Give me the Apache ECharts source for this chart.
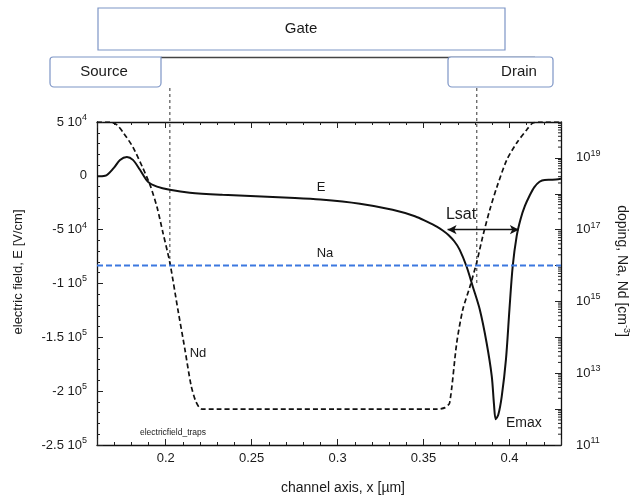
<!DOCTYPE html>
<html>
<head>
<meta charset="utf-8">
<script src="https://cdn.jsdelivr.net/npm/echarts@6/dist/echarts.min.js"></script>
<style>
html,body{margin:0;padding:0;background:#fff;}
#c{width:634px;height:501px;}
</style>
</head>
<body>
<div id="c"></div>
<script>
// ---- data ----
const xMin = 0.16, xMax = 0.43;
// electric field E [V/cm] along the channel
const eX = [0.16, 0.1647, 0.1698, 0.1734, 0.1774, 0.1809, 0.185, 0.1897, 0.1949, 0.2024, 0.214, 0.233, 0.272, 0.29, 0.313, 0.332, 0.345, 0.352, 0.3577, 0.3612, 0.3645, 0.368, 0.371, 0.375, 0.3787, 0.3827, 0.3867, 0.3897, 0.391, 0.392, 0.3935, 0.3955, 0.398, 0.400, 0.4019, 0.4042, 0.4065, 0.409, 0.4117, 0.4145, 0.4175, 0.4205, 0.425, 0.43];
const eVal = [-500, 0, 7400, 14800, 17600, 14800, 5600, -5600, -10000, -13000, -15700, -17600, -20400, -22000, -25900, -31500, -37500, -42600, -47200, -50800, -55000, -61000, -68500, -84000, -103000, -124000, -155000, -186000, -212000, -226000, -222000, -205000, -170000, -124000, -84000, -56000, -40000, -28000, -18500, -10500, -5500, -3800, -3700, -2800];
// donor doping Nd [cm^-3]
const ndX = [0.16, 0.1676, 0.1716, 0.1751, 0.1809, 0.1867, 0.1908, 0.1949, 0.1984, 0.2024, 0.2071, 0.2112, 0.2147, 0.2176, 0.221, 0.3, 0.358, 0.3625, 0.3652, 0.3693, 0.3728, 0.3769, 0.3809, 0.3844, 0.3885, 0.3926, 0.3984, 0.4042, 0.41, 0.4135, 0.4176, 0.43];
const ndVal = [1e20, 1e20, 8.3e19, 5.2e19, 2.0e19, 5.2e18, 1.8e18, 4.3e17, 8.1e16, 1.2e16, 5.8e14, 4.5e13, 4.7e12, 1.6e12, 1e12, 1e12, 1e12, 1.1e12, 1.5e12, 6.9e13, 5.8e14, 2.5e15, 1.2e16, 6.3e16, 3.5e17, 1.5e18, 8.7e18, 2.6e19, 6.0e19, 9.3e19, 1e20, 1e20];
// acceptor doping Na [cm^-3]
const naX = [0.16, 0.43];
const naVal = [1e16, 1e16];
// metallurgical junctions (x of dashed verticals)
const junctions = [0.2024, 0.381];
// saturation region (Lsat) at E = -5e4
const lsatX = [0.364, 0.4055];
const lsatE = -50000;
// axis ranges / ticks
const eMin = -250000, eMax = 50000, eStep = 50000;
const logMin = 11, logMax = 20;

const FONT = '"Liberation Sans", Arial, Helvetica, sans-serif';
const TXT = '#1a1a1a';

function eLabel(v) {
  if (Math.abs(v) < 1) return '0';
  const ex = Math.abs(v) < 1e5 ? 4 : 5;
  const m = v / Math.pow(10, ex);
  return m + ' 10{sup|' + ex + '}';
}
function logLabel(v) {
  const n = Math.round(v);
  if (n % 2 === 0) return '';
  return '10{sup|' + n + '}';
}
const supRich = {
  sup: { fontSize: 9, fontFamily: FONT, color: TXT, padding: [0, 0, 9, 0] }
};

const chart = echarts.init(document.getElementById('c'), null, { renderer: 'canvas' });

const pairs = (xs, ys, f) => xs.map((x, i) => [x, f ? f(ys[i]) : ys[i]]);

// minor log ticks for the right axis
const minorLog = [];
for (let d = logMin; d < logMax; d++) {
  for (let m = 2; m <= 9; m++) minorLog.push([xMax, Math.log10(m * Math.pow(10, d))]);
}

const baseX = {
  type: 'value', min: xMin, max: xMax, splitLine: { show: false }
};
const axLine = { show: true, onZero: false, lineStyle: { color: '#111', width: 1.3 } };
const noLine = { show: false, onZero: false };

chart.setOption({
  animation: false,
  backgroundColor: '#fff',
  grid: { left: 97, right: 73, top: 122, bottom: 56, containLabel: false },
  xAxis: [
    Object.assign({}, baseX, {
      position: 'bottom', interval: 0.01,
      axisLine: axLine,
      axisTick: { show: true, inside: true, length: 3, lineStyle: { color: '#222' } },
      axisLabel: {
        interval: 0, margin: 7, fontSize: 13, fontFamily: FONT, color: TXT,
        formatter: v => (Math.abs(v * 20 - Math.round(v * 20)) < 1e-6 && v > xMin + 1e-6 && v < xMax - 1e-6) ? String(+v.toFixed(2)) : ''
      }
    }),
    Object.assign({}, baseX, {
      position: 'bottom', splitNumber: 5,
      axisLine: noLine,
      axisTick: { show: true, inside: true, length: 6, lineStyle: { color: '#222' } },
      axisLabel: { show: false }
    }),
    Object.assign({}, baseX, {
      position: 'top', interval: 0.01,
      axisLine: axLine,
      axisTick: { show: true, inside: true, length: 3, lineStyle: { color: '#222' } },
      axisLabel: { show: false }
    }),
    Object.assign({}, baseX, {
      position: 'top', splitNumber: 5,
      axisLine: noLine,
      axisTick: { show: true, inside: true, length: 6, lineStyle: { color: '#222' } },
      axisLabel: { show: false }
    })
  ],
  yAxis: [
    {
      type: 'value', position: 'left', min: eMin, max: eMax, interval: eStep,
      splitLine: { show: false },
      axisLine: axLine,
      axisTick: { show: true, inside: true, length: 6, lineStyle: { color: '#222' } },
      minorTick: { show: true, splitNumber: 5, length: 3, lineStyle: { color: '#222' } },
      axisLabel: {
        margin: 10, fontSize: 13, fontFamily: FONT, color: TXT,
        formatter: eLabel, rich: supRich
      }
    },
    {
      type: 'value', position: 'right', min: logMin, max: logMax, interval: 1,
      splitLine: { show: false },
      axisLine: axLine,
      axisTick: { show: true, inside: true, length: 6, lineStyle: { color: '#222' } },
      axisLabel: {
        margin: 15, fontSize: 13, fontFamily: FONT, color: TXT,
        formatter: logLabel, rich: supRich
      }
    }
  ],
  series: [
    {
      name: 'E', type: 'line', xAxisIndex: 0, yAxisIndex: 0,
      data: pairs(eX, eVal), showSymbol: false, smooth: 0.3,
      lineStyle: { color: '#111', width: 2 },
      markLine: {
        silent: true, symbol: ['arrow', 'arrow'], symbolSize: [7, 9],
        label: { show: false },
        lineStyle: { color: '#111', width: 1.3, type: 'solid' },
        data: [[{ coord: [lsatX[0], lsatE] }, { coord: [lsatX[1], lsatE] }]]
      }
    },
    {
      name: 'Nd', type: 'line', xAxisIndex: 0, yAxisIndex: 1,
      data: pairs(ndX, ndVal, Math.log10), showSymbol: false, smooth: 0.25,
      lineStyle: { color: '#111', width: 1.7, type: [5, 3] }
    },
    {
      name: 'Na', type: 'line', xAxisIndex: 0, yAxisIndex: 1,
      data: pairs(naX, naVal, Math.log10), showSymbol: false,
      lineStyle: { color: '#3c78e0', width: 2, type: [6, 3] }
    },
    {
      name: 'logMinor', type: 'custom', xAxisIndex: 0, yAxisIndex: 1,
      silent: true, data: minorLog,
      renderItem: (params, api) => {
        const p = api.coord([api.value(0), api.value(1)]);
        return { type: 'line', shape: { x1: p[0] - 3, y1: p[1], x2: p[0], y2: p[1] }, style: { stroke: '#222', lineWidth: 1 } };
      }
    }
  ]
});

// graphics (boxes, annotations, junction lines)
const j0 = chart.convertToPixel({ seriesIndex: 2 }, [junctions[0], Math.log10(naVal[0])]);
const j1 = chart.convertToPixel({ seriesIndex: 2 }, [junctions[1], Math.log10(naVal[0])]);
const boxStroke = '#7d95c6';
const txt = (x, y, s, size, extra) => Object.assign({
  type: 'text', x: x, y: y, silent: true,
  style: { text: s, fontSize: size, fontFamily: FONT, fill: TXT, align: 'center', verticalAlign: 'middle' }
}, extra || {});

chart.setOption({
  graphic: [
    { type: 'rect', shape: { x: 98, y: 8, width: 407, height: 42 }, style: { fill: '#fff', stroke: boxStroke, lineWidth: 1.2 } },
    txt(301, 29, 'Gate', 15),
    { type: 'line', shape: { x1: 161, y1: 57.5, x2: 535, y2: 57.5 }, style: { stroke: '#444', lineWidth: 1.5 } },
    { type: 'rect', shape: { x: 50, y: 57, width: 111, height: 30, r: [3, 0, 4, 4] }, style: { fill: '#fff', stroke: boxStroke, lineWidth: 1.2 } },
    txt(104, 72, 'Source', 15),
    { type: 'rect', shape: { x: 448, y: 57, width: 105, height: 30, r: [3, 3, 4, 4] }, style: { fill: '#fff', stroke: boxStroke, lineWidth: 1.2 } },
    txt(519, 72, 'Drain', 15),
    { type: 'line', shape: { x1: j0[0], y1: 88, x2: j0[0], y2: j0[1] }, style: { stroke: '#333', lineWidth: 1, lineDash: [3, 3] } },
    { type: 'line', shape: { x1: j1[0], y1: 88, x2: j1[0], y2: j1[1] + 18 }, style: { stroke: '#333', lineWidth: 1, lineDash: [3, 3] } },
    txt(321, 187, 'E', 13),
    txt(325, 253, 'Na', 13),
    txt(198, 353, 'Nd', 13),
    txt(461, 215, 'Lsat', 16),
    txt(506, 423, 'Emax', 14, { style: { text: 'Emax', fontSize: 14, fontFamily: FONT, fill: TXT, align: 'left', verticalAlign: 'middle' } }),
    txt(173, 433, 'electricfield_traps', 8.5),
    txt(343, 488, 'channel axis, x [µm]', 14),
    txt(18, 272, 'electric field, E [V/cm]', 13, { rotation: Math.PI / 2 }),
    {
      type: 'text', x: 622, y: 271, rotation: -Math.PI / 2, silent: true,
      style: {
        text: 'doping, Na, Nd [cm{sup|-3}]', fontSize: 14, fontFamily: FONT, fill: TXT,
        align: 'center', verticalAlign: 'middle',
        rich: { sup: { fontSize: 9, fontFamily: FONT, fill: TXT, padding: [0, 0, 9, 0] } }
      }
    }
  ]
});
</script>
</body>
</html>
